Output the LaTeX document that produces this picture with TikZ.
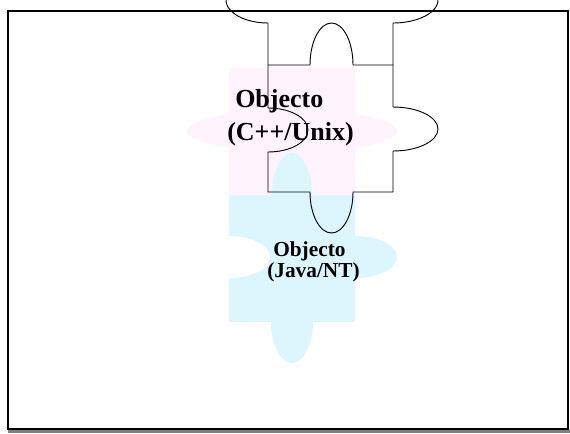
\documentclass[tikz,border=0pt]{standalone}
\usepackage{fontspec}
\setmainfont{Liberation Serif}
\usepackage{xcolor}
\usepackage{tikz}
\usetikzlibrary{positioning}

\definecolor{unixpink}{RGB}{255,243,253}
\definecolor{javablue}{RGB}{221,246,253}

\begin{document}
\begin{tikzpicture}[
    x=0.75pt, y=-0.75pt,
    piece/.style={draw=black, line width=0.7pt},
    bigtext/.style={font=\bfseries\fontsize{19.5}{24}\selectfont, inner sep=0pt, anchor=base west},
    smalltext/.style={font=\bfseries\fontsize{16}{20}\selectfont, inner sep=0pt, anchor=base west}
]
\useasboundingbox (0,0) rectangle (570,433);

% Frame and its shadow
\fill[gray] (8,430) rectangle (570,433);
\draw[line width=1.5pt] (8,11) rectangle (568,428.5);

% Pink piece
\fill[unixpink] (229,68) rectangle (355,195);
\fill[unixpink] (292,131) ellipse [x radius=105, y radius=21];

% Blue piece
\fill[javablue] (229,195) rectangle (355,322);
\fill[javablue] (292,195) ellipse [x radius=20, y radius=42];
\fill[javablue] (292,322) ellipse [x radius=21, y radius=41];
\fill[javablue] (355,257) ellipse [x radius=42, y radius=21];
\fill[white] (229,257) ellipse [x radius=41, y radius=21];

% Outlined pieces
\draw[piece] (268,65) -- (268,23) arc[start angle=90, end angle=200, x radius=42, y radius=23];
\draw[piece] (393,65) -- (393,23) arc[start angle=90, end angle=-20, x radius=45, y radius=23];
\draw[piece] (268,65) -- (310,65) arc[start angle=180, end angle=360, x radius=21.5, y radius=42] -- (393,65);
\draw[piece] (268,65) -- (268,108) arc[start angle=-90, end angle=90, x radius=40, y radius=22]
    -- (268,192) -- (310,192) arc[start angle=180, end angle=0, x radius=21.5, y radius=41]
    -- (393,192) -- (393,151) arc[start angle=90, end angle=-90, x radius=45, y radius=22] -- (393,65);

% Labels
\node[bigtext] (unixname) at (235,107) {Objecto};
\node[bigtext] (unixos) at (227,140) {(C++/Unix)};
\node[smalltext] (javaname) at (273,256) {Objecto};
\node[smalltext] (javaos) at (267,277) {(Java/NT)};

\end{tikzpicture}
\end{document}
